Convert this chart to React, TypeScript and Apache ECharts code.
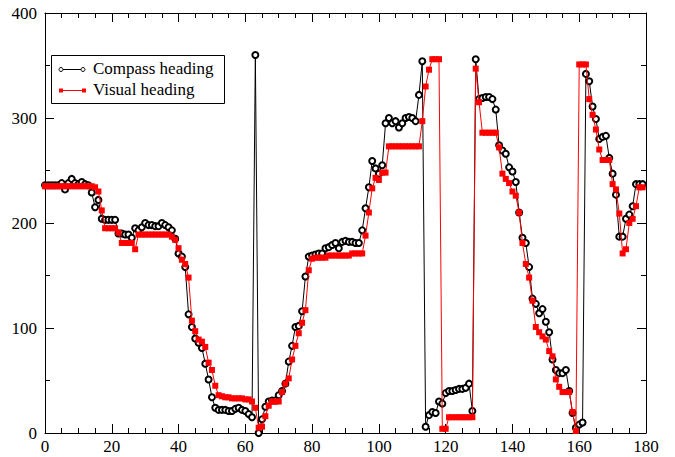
import React, { useEffect, useRef } from "react";
import * as echarts from "echarts";

// Compass heading, one sample per unit of x (x = index, 0..179)
const compassHeading = [
  236, 236, 236, 236, 236, 238, 232, 238, 242, 238,
  237, 239, 237, 236, 229, 215, 222, 204, 203, 203,
  203, 203, 190, 190, 189, 189, 186, 195, 193, 196,
  200, 198, 198, 197, 197, 200, 198, 196, 193, 185,
  171, 168, 158, 113, 101, 90, 86, 81, 66, 51,
  34, 24, 22, 22, 22, 21, 21, 23, 24, 22,
  21, 18, 15, 360, 0, 13, 25, 30, 31, 31,
  36, 40, 47, 68, 83, 101, 102, 116, 149, 168,
  169, 170, 171, 171, 176, 177, 179, 181, 176, 182,
  183, 182, 182, 181, 181, 193, 214, 234, 259, 252,
  247, 255, 295, 300, 295, 297, 291, 295, 300, 301,
  300, 297, 322, 354, 6, 17, 20, 19, 30, 28,
  38, 40, 40, 41, 42, 42, 43, 47, 21, 356,
  318, 319, 320, 320, 318, 308, 274, 269, 266, 253,
  249, 239, 210, 186, 181, 158, 128, 123, 114, 118,
  106, 96, 70, 60, 57, 57, 60, 40, 19, 5,
  8, 10, 342, 335, 311, 299, 280, 282, 283, 262,
  247, 227, 187, 187, 204, 208, 216, 237, 237, 237,
];

// Visual heading, one sample per unit of x (x = index, 0..179)
const visualHeading = [
  235, 235, 235, 235, 235, 235, 235, 235, 235, 235,
  235, 235, 235, 235, 235, 234, 230, 212, 195, 195,
  195, 195, 191, 181, 181, 181, 181, 175, 189, 189,
  189, 189, 189, 189, 189, 189, 189, 189, 187, 184,
  176, 165, 161, 148, 107, 97, 89, 87, 82, 67,
  60, 45, 36, 35, 34, 34, 33, 33, 33, 33,
  32, 32, 30, 24, 5, 6, 16, 26, 30, 30,
  30, 39, 47, 52, 70, 83, 95, 105, 117, 155,
  166, 167, 167, 167, 167, 169, 169, 169, 169, 169,
  169, 169, 171, 171, 171, 171, 188, 210, 233, 243,
  241, 248, 248, 273, 273, 273, 273, 273, 273, 273,
  273, 273, 273, 297, 330, 346, 356, 356, 356, 4,
  4, 15, 15, 15, 15, 15, 15, 15, 15, 347,
  315, 286, 286, 286, 286, 286, 272, 247, 242, 238,
  230, 226, 210, 181, 161, 148, 126, 101, 96, 92,
  89, 78, 73, 51, 44, 39, 39, 39, 20, 2,
  351, 351, 351, 318, 303, 289, 270, 260, 260, 260,
  237, 232, 209, 171, 175, 200, 204, 216, 234, 234,
];

const seriesNames = ["Compass heading", "Visual heading"];
const xRange = [0, 180];
const yRange = [0, 400];

const FONT = "Liberation Serif";

export default function App() {
  const ref = useRef<HTMLDivElement>(null);

  useEffect(() => {
    const chart = echarts.init(ref.current!, null, { renderer: "svg" });

    const tickCommon = (showLabel: boolean, margin: number) => ({
      axisLine: { show: true, onZero: false, lineStyle: { color: "#000", width: 1 } },
      axisTick: { show: true, inside: true, length: 9, lineStyle: { color: "#000", width: 1 } },
      axisLabel: {
        show: showLabel,
        color: "#000",
        fontFamily: FONT,
        fontSize: 17,
        margin,
      },
      splitLine: { show: false },
      minorSplitLine: { show: false },
    });

    const xBase = { type: "value", min: xRange[0], max: xRange[1], interval: 20 };
    const yBase = { type: "value", min: yRange[0], max: yRange[1], interval: 100 };

    chart.setOption({
      animation: false,
      backgroundColor: "#fff",
      textStyle: { fontFamily: FONT },
      grid: { left: 45, right: 29, top: 13, bottom: 24, containLabel: false },
      xAxis: [
        {
          ...xBase,
          position: "bottom",
          ...tickCommon(true, 5),
          minorTick: { show: true, splitNumber: 4, length: 5, lineStyle: { color: "#000" } },
        },
        {
          ...xBase,
          position: "top",
          ...tickCommon(false, 5),
          minorTick: { show: true, splitNumber: 4, length: 5, lineStyle: { color: "#000" } },
        },
      ],
      yAxis: [
        {
          ...yBase,
          position: "left",
          ...tickCommon(true, 8),
          minorTick: { show: true, splitNumber: 2, length: 5, lineStyle: { color: "#000" } },
        },
        {
          ...yBase,
          position: "right",
          ...tickCommon(false, 8),
          minorTick: { show: true, splitNumber: 2, length: 5, lineStyle: { color: "#000" } },
        },
      ],
      series: [
        {
          name: seriesNames[0],
          type: "line",
          xAxisIndex: 0,
          yAxisIndex: 0,
          data: compassHeading.map((v, i) => [i, v]),
          symbol: "emptyCircle",
          symbolSize: 6,
          showAllSymbol: true,
          itemStyle: { color: "#000", borderColor: "#000", borderWidth: 0.8 },
          lineStyle: { color: "#000", width: 1 },
          z: 2,
        },
        {
          name: seriesNames[1],
          type: "line",
          xAxisIndex: 0,
          yAxisIndex: 0,
          data: visualHeading.map((v, i) => [i, v]),
          symbol: "rect",
          symbolSize: 6,
          showAllSymbol: true,
          itemStyle: { color: "#ff0000" },
          lineStyle: { color: "#ff0000", width: 1 },
          z: 3,
        },
      ],
      graphic: [
        {
          type: "group",
          z: 100,
          children: [
            {
              type: "rect",
              shape: { x: 51.5, y: 55.5, width: 173, height: 48 },
              style: { fill: "#fff", stroke: "#000", lineWidth: 1 },
            },
            {
              type: "line",
              shape: { x1: 61, y1: 69.5, x2: 83, y2: 69.5 },
              style: { stroke: "#000", lineWidth: 1 },
            },
            {
              type: "circle",
              shape: { cx: 61, cy: 69.5, r: 2 },
              style: { fill: "#fff", stroke: "#000", lineWidth: 1 },
            },
            {
              type: "circle",
              shape: { cx: 83, cy: 69.5, r: 2 },
              style: { fill: "#fff", stroke: "#000", lineWidth: 1 },
            },
            {
              type: "text",
              x: 93,
              y: 68,
              style: {
                text: seriesNames[0],
                fill: "#000",
                fontFamily: FONT,
                fontSize: 17,
                verticalAlign: "middle",
                align: "left",
              },
            },
            {
              type: "line",
              shape: { x1: 61, y1: 90.5, x2: 84, y2: 90.5 },
              style: { stroke: "#ff0000", lineWidth: 1 },
            },
            {
              type: "rect",
              shape: { x: 59, y: 88.5, width: 4, height: 4 },
              style: { fill: "#ff0000" },
            },
            {
              type: "rect",
              shape: { x: 82, y: 88.5, width: 4, height: 4 },
              style: { fill: "#ff0000" },
            },
            {
              type: "text",
              x: 93,
              y: 89,
              style: {
                text: seriesNames[1],
                fill: "#000",
                fontFamily: FONT,
                fontSize: 17,
                verticalAlign: "middle",
                align: "left",
              },
            },
          ],
        },
      ],
    });

    return () => chart.dispose();
  }, []);

  return (
    <div
      ref={ref}
      style={{ position: "fixed", left: 0, top: 0, width: 675, height: 457, background: "#fff" }}
    />
  );
}
